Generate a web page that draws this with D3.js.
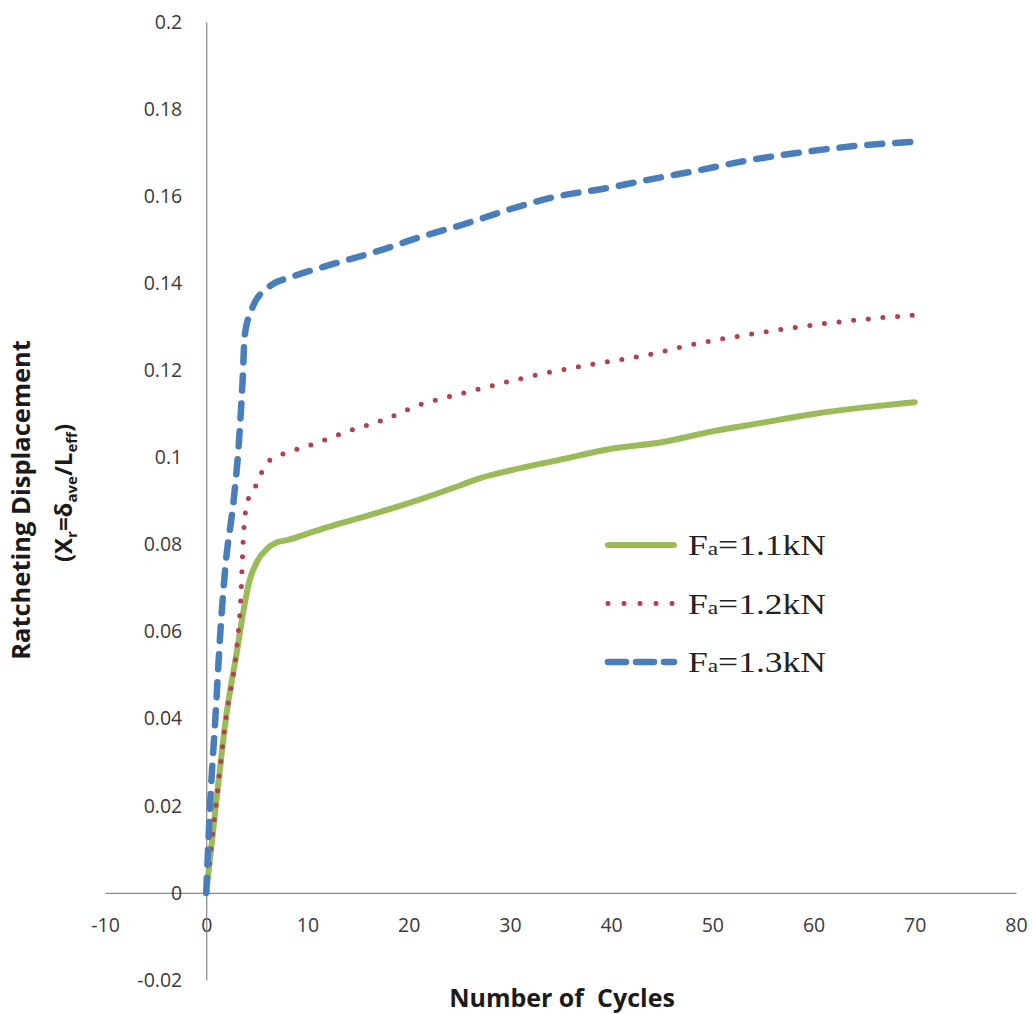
<!DOCTYPE html>
<html>
<head>
<meta charset="utf-8">
<script src="https://cdn.jsdelivr.net/npm/d3@7"></script>
<style>
  body { margin: 0; background: #fff; }
  #chart svg { display: block; }
</style>
</head>
<body>
<div id="chart"></div>
<script>
// values
const seriesNames = ["1.1kN", "1.2kN", "1.3kN"];

const cycles11 = [0, 1, 2, 3, 3.7, 4.2, 5, 6, 7, 8, 10, 12, 15, 20, 25, 27, 30, 35, 40, 45, 50, 55, 60, 65, 70];
const disp11 = [0, 0.021, 0.041, 0.055, 0.065, 0.071, 0.076, 0.079, 0.0805, 0.081, 0.0825, 0.084, 0.086, 0.0895, 0.0935, 0.0952, 0.097, 0.0995, 0.102, 0.1035, 0.106, 0.108, 0.11, 0.1115, 0.1127];

const cycles12 = [0, 1, 2, 3, 3.4, 3.7, 4.1, 4.8, 5.5, 6.3, 7.6, 10.5, 14, 17.5, 21, 25.8, 30, 34, 39, 43.5, 48.8, 53, 58.6, 64, 70];
const disp12 = [0, 0.021, 0.041, 0.056, 0.067, 0.083, 0.09, 0.093, 0.0967, 0.0994, 0.1008, 0.103, 0.106, 0.1086, 0.112, 0.115, 0.1175, 0.1196, 0.1217, 0.1235, 0.1263, 0.128, 0.13, 0.1315, 0.1327];

const cycles13 = [0, 0.4, 0.9, 1.4, 1.9, 2.7, 3.2, 3.6, 3.8, 4.6, 6.1, 8.5, 11.5, 17.5, 21, 25.8, 30, 34, 39.9, 43.5, 48.8, 53, 58.6, 64, 70];
const disp13 = [0, 0.021, 0.04, 0.06, 0.075, 0.09, 0.1025, 0.118, 0.128, 0.1346, 0.139, 0.1415, 0.1437, 0.1478, 0.1505, 0.1538, 0.157, 0.1596, 0.162, 0.1637, 0.166, 0.168, 0.17, 0.1715, 0.1725];

const xTicks = [-10, 0, 10, 20, 30, 40, 50, 60, 70, 80];
const yTicks = [-0.02, 0, 0.02, 0.04, 0.06, 0.08, 0.1, 0.12, 0.14, 0.16, 0.18, 0.2];

class RatchetChart {
    constructor() {
        this.width = 1033;
        this.height = 1014;
        this.series = [
            { name: seriesNames[0], xs: cycles11, ys: disp11, color: "#9bbb59", width: 6, dash: null, legendDash: null },
            { name: seriesNames[1], xs: cycles12, ys: disp12, color: "#b2404f", width: 5, dash: "0 14.7", legendDash: "0 16" },
            { name: seriesNames[2], xs: cycles13, ys: disp13, color: "#4a7ebb", width: 6.5, dash: "15 13", legendDash: "18 10" }
        ];
        this.draw();
    }

    draw() {
        let svg = d3.select("#chart")
            .append("svg")
            .attr("width", this.width)
            .attr("height", this.height);

        let x = d3.scaleLinear().domain([-10, 80]).range([105, 1016]);
        let y = d3.scaleLinear().domain([-0.02, 0.2]).range([980, 22]);

        // axes cross at zero, no tick marks, labels only
        svg.append("g")
            .attr("transform", "translate(0," + y(0) + ")")
            .call(d3.axisBottom(x).tickValues(xTicks).tickSize(0).tickPadding(25)
                .tickFormat(d => d.toString()))
            .call(g => g.select(".domain").attr("stroke", "#868686").attr("stroke-width", 1.2));

        svg.append("g")
            .attr("transform", "translate(" + x(0) + ",0)")
            .call(d3.axisLeft(y).tickValues(yTicks).tickSize(0).tickPadding(24)
                .tickFormat(d => (+d.toFixed(2)).toString()))
            .call(g => g.select(".domain").attr("stroke", "#868686").attr("stroke-width", 1.2));

        svg.selectAll(".tick text")
            .attr("font-family", "Open Sans, sans-serif")
            .attr("font-size", 19.5)
            .attr("fill", "#3a3a3a");

        // series
        let line = d3.line()
            .x(d => x(d[0]))
            .y(d => y(d[1]))
            .curve(d3.curveMonotoneX);

        this.series.forEach(s => {
            let pts = s.xs.map((v, i) => [v, s.ys[i]]);
            svg.append("path")
                .datum(pts)
                .attr("d", line)
                .attr("fill", "none")
                .attr("stroke", s.color)
                .attr("stroke-width", s.width)
                .attr("stroke-linecap", "round")
                .attr("stroke-linejoin", "round")
                .attr("stroke-dasharray", s.dash);
        });

        // legend
        let legend = svg.append("g").attr("transform", "translate(608,545)");
        this.series.forEach((s, i) => {
            let row = legend.append("g").attr("transform", "translate(0," + (i * 58.5) + ")");
            row.append("line")
                .attr("x1", 0).attr("x2", 66)
                .attr("y1", 0).attr("y2", 0)
                .attr("stroke", s.color)
                .attr("stroke-width", s.width)
                .attr("stroke-linecap", "round")
                .attr("stroke-dasharray", s.legendDash);
            let t = row.append("text")
                .attr("x", 80).attr("y", 10)
                .attr("font-family", "Liberation Serif, Times New Roman, serif")
                .attr("font-size", 29)
                .attr("fill", "#222")
                .attr("textLength", 138)
                .attr("lengthAdjust", "spacingAndGlyphs");
            t.append("tspan").text("F");
            t.append("tspan").attr("font-size", 19).text("a");
            t.append("tspan").text("=" + s.name);
        });

        // axis titles
        svg.append("text")
            .attr("x", 562).attr("y", 1007)
            .attr("text-anchor", "middle")
            .attr("font-family", "Open Sans, sans-serif")
            .attr("font-weight", "bold")
            .attr("font-size", 25)
            .attr("fill", "#1a1a1a")
            .style("white-space", "pre")
            .text("Number of  Cycles");

        let yTitle = svg.append("g").attr("transform", "translate(30,500) rotate(-90)");
        yTitle.append("text")
            .attr("text-anchor", "middle")
            .attr("font-family", "Open Sans, sans-serif")
            .attr("font-weight", "bold")
            .attr("font-size", 25.5)
            .attr("fill", "#1a1a1a")
            .text("Ratcheting Displacement");
        let t2 = yTitle.append("text")
            .attr("x", 7).attr("y", 42)
            .attr("text-anchor", "middle")
            .attr("font-family", "Open Sans, sans-serif")
            .attr("font-weight", "bold")
            .attr("font-size", 24)
            .attr("fill", "#1a1a1a");
        t2.append("tspan").text("(X");
        t2.append("tspan").attr("font-size", 15).attr("dy", 5).text("r");
        t2.append("tspan").attr("dy", -5).text("=δ");
        t2.append("tspan").attr("font-size", 15).attr("dy", 5).text("ave");
        t2.append("tspan").attr("dy", -5).text("/L");
        t2.append("tspan").attr("font-size", 15).attr("dy", 5).text("eff");
        t2.append("tspan").attr("dy", -5).text(")");
    }
}

new RatchetChart();
</script>
</body>
</html>
